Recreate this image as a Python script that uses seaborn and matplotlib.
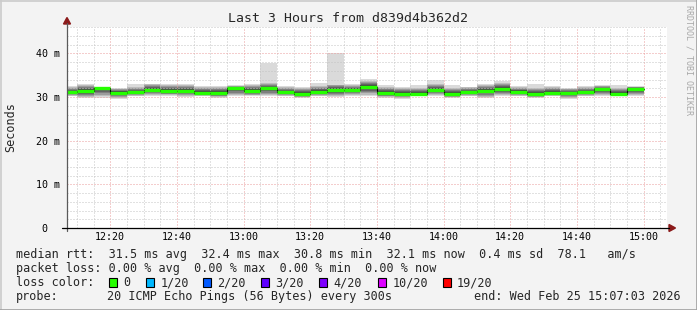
import numpy as np
import pandas as pd
import matplotlib
matplotlib.use("Agg")
import matplotlib.pyplot as plt
import seaborn as sns
from matplotlib.lines import Line2D
from matplotlib.patches import Rectangle, Polygon
from matplotlib.ticker import MultipleLocator

# ---------------- data ----------------
# 5-minute bins, bin end time in minutes after 12:00 (12:10 ... 15:00)
bin_end = list(range(10, 181, 5))
# median RTT per bin (ms)
median_ms = [31.1, 31.4, 32.1, 31.0, 31.1, 31.7, 31.5, 31.5, 31.0,
             31.0, 32.0, 31.4, 32.0, 31.1, 30.8, 31.2, 31.6,
             31.7, 32.3, 31.0, 30.8, 30.8, 31.7, 30.8, 31.1, 31.5,
             31.9, 31.2, 30.8, 31.0, 30.9, 31.1, 31.8, 30.8, 31.9]
# highest ping per bin (ms)
max_ms = [32.5, 32.9, 32.4, 32.1, 32.9, 33.1, 32.9, 32.9, 32.5,
          32.5, 32.7, 33.0, 37.9, 32.5, 32.4, 33.3, 40.2,
          32.9, 34.2, 32.7, 32.4, 32.7, 33.8, 32.7, 32.4, 32.9,
          33.7, 32.5, 32.9, 32.5, 32.1, 32.5, 32.7, 32.7, 32.5]
# lowest ping per bin (ms)
min_ms = [30.2, 29.8, 29.8, 29.6, 30.2, 30.2, 30.2, 30.0, 30.2,
          29.8, 30.2, 30.2, 30.2, 30.2, 29.8, 30.2, 30.0,
          30.2, 30.2, 29.8, 29.6, 30.2, 30.2, 29.8, 30.2, 29.8,
          30.2, 30.2, 29.8, 30.2, 29.6, 30.2, 30.2, 30.2, 30.2]

xtick_pos = [20, 40, 60, 80, 100, 120, 140, 160, 180]
xtick_labels = ["12:20", "12:40", "13:00", "13:20", "13:40", "14:00", "14:20", "14:40", "15:00"]
ytick_pos = [0, 10, 20, 30, 40]
ytick_labels = ["0  ", "10 m", "20 m", "30 m", "40 m"]

title = "Last 3 Hours from d839d4b362d2"
row_rtt = "median rtt:  31.5 ms avg  32.4 ms max  30.8 ms min  32.1 ms now  0.4 ms sd  78.1   am/s"
row_loss = "packet loss: 0.00 % avg  0.00 % max  0.00 % min  0.00 % now"
loss_names = ["0", "1/20", "2/20", "3/20", "4/20", "10/20", "19/20"]
loss_colors = ["#26ff00", "#00b8ff", "#0059ff", "#5e00ff", "#7e00ff", "#dd00ff", "#ff0000"]
probe_text = "20 ICMP Echo Pings (56 Bytes) every 300s"
end_text = "end: Wed Feb 25 15:07:03 2026"

# ---------------- figure ----------------
W, H = 697, 310
sns.set_theme(style="white")
plt.rcParams['font.family'] = ['DejaVu Sans Mono', 'DejaVu Sans']

fig = plt.figure(figsize=(W / 100, H / 100), dpi=100, facecolor='#f3f3f3')


def fx(px):
    return px / W


def fy(py):
    return 1 - py / H


ax = fig.add_axes([fx(67), fy(228), 600 / W, 201 / H])
ax.set_facecolor('white')
for s in ax.spines.values():
    s.set_visible(False)

ends = np.array(bin_end, dtype=float)
starts = ends - 5
med = np.array(median_ms)
hi = np.array(max_ms)
lo = np.array(min_ms)

# smoke: nested grey bands, darker towards the median
hic = np.minimum(hi, med + 1.5)
levels = [(1.0, '#dadada'), (0.85, '#bcbcbc'), (0.7, '#9c9c9c'),
          (0.55, '#7e7e7e'), (0.4, '#626262'), (0.25, '#464646')]
for f, c in levels:
    top = hi if f == 1.0 else med + f * (hic - med)
    bot = med - f * (med - lo)
    ax.bar(starts, top - bot, bottom=bot, width=5, align='edge',
           color=c, linewidth=0, zorder=2)

# median: black step connector + green level segments
df = pd.DataFrame({'t': np.concatenate([[starts[0]], ends]),
                   'rtt': np.concatenate([[med[0]], med])})
sns.lineplot(data=df, x='t', y='rtt', drawstyle='steps-pre', color='black',
             lw=0.8, ax=ax, zorder=3)
ax.hlines(med, starts, ends, colors=loss_colors[0], lw=2.4, zorder=4)

ax.set_xlim(7.05, 187.05)
ax.set_ylim(0, 46.05)
ax.set_xlabel('')
ax.set_ylabel('')

ax.set_xticks(xtick_pos)
ax.set_xticklabels(xtick_labels)
ax.set_yticks(ytick_pos)
ax.set_yticklabels(ytick_labels)
ax.xaxis.set_minor_locator(MultipleLocator(5))
ax.yaxis.set_minor_locator(MultipleLocator(2))
ax.tick_params(axis='both', which='both', length=0, labelsize=7.2, colors='#000000')
ax.tick_params(axis='x', pad=3.2)
ax.tick_params(axis='y', pad=5)
ax.set_axisbelow(False)
ax.grid(which='minor', color='#c4c4c4', lw=0.72, ls=(0, (1, 2)))
ax.grid(which='major', color='#eb9c9c', lw=0.72, ls=(0, (1, 2)))

# axis lines with arrows
fig.add_artist(Line2D([fx(67), fx(67)], [fy(231), fy(23)], color='#5a5a5a', lw=0.9))
fig.add_artist(Line2D([fx(62), fx(669)], [fy(228), fy(228)], color='#000000', lw=0.9))
fig.add_artist(Polygon([[fx(63.5), fy(24)], [fx(70.5), fy(24)], [fx(67), fy(17.5)]],
                       closed=True, color='#8b1a1a', transform=fig.transFigure))
fig.add_artist(Polygon([[fx(669), fy(224.5)], [fx(669), fy(231.5)], [fx(675.5), fy(228)]],
                       closed=True, color='#8b1a1a', transform=fig.transFigure))

# frame shading
fig.add_artist(Line2D([0, 1], [fy(0.5), fy(0.5)], color='#cbcbcb', lw=1.2))
fig.add_artist(Line2D([fx(0.5), fx(0.5)], [0, 1], color='#cbcbcb', lw=1.2))
fig.add_artist(Line2D([0, 1], [fy(309.5), fy(309.5)], color='#a0a0a0', lw=1.2))
fig.add_artist(Line2D([fx(696.5), fx(696.5)], [0, 1], color='#a0a0a0', lw=1.2))

# texts
fig.text(fx(348), fy(19), title, ha='center', va='center', fontsize=9.5)
fig.text(fx(11), fy(127), "Seconds", ha='center', va='center', rotation=90, fontsize=8.5)
fig.text(fx(688.5), fy(5), "RRDTOOL / TOBI OETIKER", ha='center', va='top',
         rotation=-90, fontsize=6, color='#a8a8a8')

fs = 8.5
fig.text(fx(16), fy(254.5), row_rtt, ha='left', va='center', fontsize=fs)
fig.text(fx(16), fy(268.5), row_loss, ha='left', va='center', fontsize=fs)
fig.text(fx(16), fy(282.5), "loss color:", ha='left', va='center', fontsize=fs)
sq_x = [108.7, 145.7, 203, 261, 319, 378, 442.5]
for x0, name, col in zip(sq_x, loss_names, loss_colors):
    fig.add_artist(Rectangle((fx(x0), fy(286.5)), 8 / W, 8.5 / H, transform=fig.transFigure,
                             facecolor=col, edgecolor='black', lw=0.8))
    fig.text(fx(x0 + 14.5), fy(282.5), name, ha='left', va='center', fontsize=fs)
fig.text(fx(16), fy(296.5), "probe:", ha='left', va='center', fontsize=fs)
fig.text(fx(107.3), fy(296.5), probe_text, ha='left', va='center', fontsize=fs)
fig.text(fx(681), fy(296.5), end_text, ha='right', va='center', fontsize=fs)

fig.savefig("out.png", dpi=100, facecolor=fig.get_facecolor())
